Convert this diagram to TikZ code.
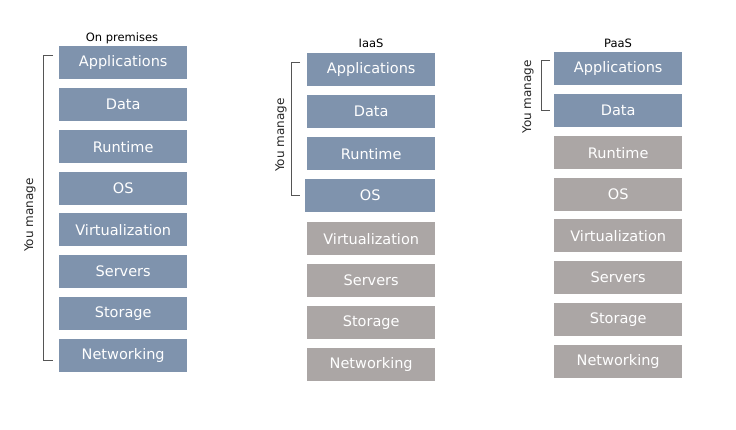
\documentclass[tikz,border=0pt]{standalone}
\usepackage{fontspec}
\setmainfont{DejaVu Sans}
\definecolor{mine}{HTML}{7F93AD}
\definecolor{theirs}{HTML}{ABA6A5}
\definecolor{brk}{HTML}{555555}
\begin{document}
\begin{tikzpicture}[x=1pt,y=-1pt,
  layer/.style={minimum width=128pt,minimum height=33pt,inner sep=0pt,text=white,font=\fontsize{14.5}{16}\selectfont,anchor=north west},
  own/.style={layer,fill=mine},
  prov/.style={layer,fill=theirs},
  ttl/.style={font=\fontsize{11.5}{13}\selectfont,text=black},
  brace/.style={draw=brk,line width=0.9pt},
  ylab/.style={rotate=90,font=\fontsize{12}{14}\selectfont,text=black!85}]
\useasboundingbox[fill=white] (0,0) rectangle (736,430);
% column 1
\node[ttl] (t1) at (122,38) {On premises};
\node[own] (a1) at (59,46) {Applications};
\node[own] (b1) at (59,88) {Data};
\node[own] (c1) at (59,130) {Runtime};
\node[own] (d1) at (59,172) {OS};
\node[own] (e1) at (59,213) {Virtualization};
\node[own] (f1) at (59,255) {Servers};
\node[own] (g1) at (59,297) {Storage};
\node[own] (h1) at (59,339) {Networking};
\coordinate (p1) at (53,55);
\coordinate (q1) at (53,360);
\draw[brace] (p1) -- (43,55) -- (43,360) -- (q1);
\node[ylab] (y1) at (30,215) {You manage};
% column 2
\node[ttl] (t2) at (371,43) {IaaS};
\node[own] (a2) at (307,53) {Applications};
\node[own] (b2) at (307,95) {Data};
\node[own] (c2) at (307,137) {Runtime};
\node[own, minimum width=130pt] (d2) at (305,179) {OS};
\node[prov] (e2) at (307,222) {Virtualization};
\node[prov] (f2) at (307,264) {Servers};
\node[prov] (g2) at (307,306) {Storage};
\node[prov] (h2) at (307,348) {Networking};
\coordinate (p2) at (300,62);
\coordinate (q2) at (300,195);
\draw[brace] (p2) -- (291,62) -- (291,195) -- (q2);
\node[ylab] (y2) at (281,135) {You manage};
% column 3
\node[ttl] (t3) at (618,43) {PaaS};
\node[own] (a3) at (554,52) {Applications};
\node[own] (b3) at (554,94) {Data};
\node[prov] (c3) at (554,136) {Runtime};
\node[prov] (d3) at (554,178) {OS};
\node[prov] (e3) at (554,219) {Virtualization};
\node[prov] (f3) at (554,261) {Servers};
\node[prov] (g3) at (554,303) {Storage};
\node[prov] (h3) at (554,345) {Networking};
\coordinate (p3) at (550,60);
\coordinate (q3) at (550,110);
\draw[brace] (p3) -- (541,60) -- (541,110) -- (q3);
\node[ylab] (y3) at (528,97) {You manage};
\end{tikzpicture}
\end{document}
